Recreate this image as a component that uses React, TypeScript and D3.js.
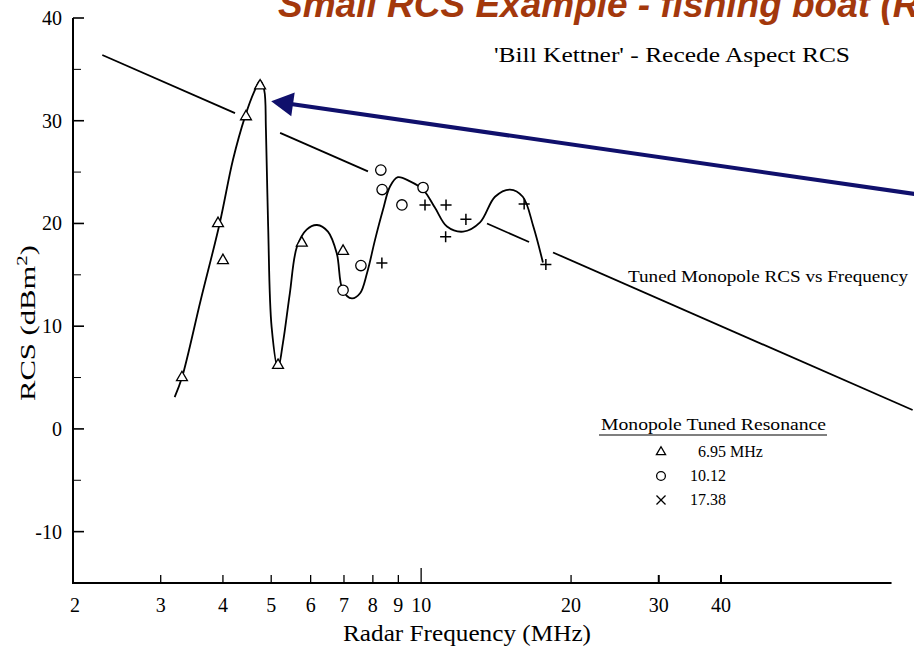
// @ts-nocheck
import { useEffect, useRef } from 'react';
import * as d3 from 'd3';

const width = 914, height = 646;

// hand-fitted response curve
const curveFreq = [3.2, 3.31, 3.61, 3.94, 4.19, 4.43, 4.62, 4.75, 4.84, 4.88, 4.93, 5.01, 5.16, 5.28, 5.45, 5.63, 5.89, 6.18, 6.5, 6.77, 6.96, 7.26, 7.54, 7.79, 8.08, 8.38, 8.66, 8.98, 9.5, 10.09, 10.67, 11.27, 12.14, 13.13, 14.07, 15.08, 16.0, 16.8, 17.56];
const curveRcs = [3.1, 5.0, 12.55, 20.0, 26.2, 30.4, 32.8, 33.9, 33.0, 29.1, 19.7, 9.9, 5.9, 8.4, 13.2, 17.7, 19.4, 19.85, 19.2, 17.1, 13.5, 12.7, 13.2, 15.2, 18.4, 21.3, 23.6, 24.5, 24.1, 23.3, 21.5, 19.7, 19.2, 20.1, 22.6, 23.3, 22.6, 19.7, 16.2];

// measured points, resonance 6.95 MHz
const triFreq = [3.31, 3.91, 4.0, 4.45, 4.75, 5.16, 5.76, 6.97];
const triRcs = [5.0, 20.0, 16.4, 30.4, 33.4, 6.2, 18.1, 17.3];
// resonance 10.12 MHz
const circFreq = [6.97, 7.57, 8.3, 8.35, 9.15, 10.09];
const circRcs = [13.5, 15.9, 25.2, 23.3, 21.8, 23.5];
// resonance 17.38 MHz
const plusFreq = [8.34, 10.18, 11.22, 11.2, 12.3, 16.1, 17.8];
const plusRcs = [16.15, 21.8, 21.8, 18.7, 20.4, 21.9, 16.0];

// tuned monopole trend line (drawn with gaps)
const refFreq = [2.29, 97];
const refRcs = [36.4, 1.84];
const refPieces = [[2.29, 4.23], [5.21, 7.82], [13.56, 16.47], [18.4, 97]];

const xTicks = [3, 4, 5, 6, 7, 8, 9, 10, 20, 30, 40];
const xLabels = [2, 3, 4, 5, 6, 7, 8, 9, 10, 20, 30, 40];
const yMajor = [-10, 0, 10, 20, 30, 40];
const yMinor = [-5, 5, 15, 25, 35];

const legendNames = ['6.95 MHz', '10.12', '17.38'];

// arrow annotation, in data units
const arrowFrom = [97, 22.9];
const arrowTo = [5.0, 31.9];

const serif = '"Liberation Serif", "Times New Roman", serif';

export default function App() {
  const ref = useRef(null);

  useEffect(() => {
    d3.select(ref.current).selectAll('*').remove();
    const svg = d3.select(ref.current);

    const x = d3.scaleLog().domain([2, 40]).range([73, 721]);
    const y = d3.scaleLinear().domain([-15, 40]).range([583, 18]);

    /* Title (cropped at the top, as on the slide) */
    svg.append('text')
      .attr('x', 278).attr('y', 17)
      .style('font', 'italic bold 37px "Liberation Sans", Arial, sans-serif')
      .attr('fill', '#a3380c')
      .text('Small RCS Example - fishing boat (R');

    svg.append('text')
      .attr('x', 494).attr('y', 62)
      .attr('textLength', 356).attr('lengthAdjust', 'spacingAndGlyphs')
      .style('font', `22px ${serif}`)
      .text("'Bill Kettner' - Recede Aspect RCS");

    /* Axes */
    const g = svg.append('g').attr('stroke', '#000');
    g.append('line').attr('x1', 73).attr('x2', 73).attr('y1', y(40)).attr('y2', y(-15)).attr('stroke-width', 2);
    g.append('line').attr('x1', 72).attr('x2', x(88)).attr('y1', y(-15)).attr('y2', y(-15)).attr('stroke-width', 2.2);

    g.selectAll('.ymaj').data(yMajor).join('line')
      .attr('x1', 73).attr('x2', 84).attr('y1', d => y(d)).attr('y2', d => y(d)).attr('stroke-width', 1.6);
    g.selectAll('.ymin').data(yMinor).join('line')
      .attr('x1', 73).attr('x2', 81).attr('y1', d => y(d)).attr('y2', d => y(d)).attr('stroke-width', 1);
    g.selectAll('.xt').data(xTicks).join('line')
      .attr('x1', d => x(d)).attr('x2', d => x(d))
      .attr('y1', y(-15)).attr('y2', d => y(-15) - (d === 10 ? 15 : 8))
      .attr('stroke-width', d => d >= 30 ? 2 : 1.3);

    svg.append('g')
      .style('font', `20px ${serif}`)
      .attr('text-anchor', 'end')
      .selectAll('text').data(yMajor).join('text')
      .attr('x', 62).attr('y', d => y(d) + 7)
      .text(d => d);

    svg.append('g')
      .style('font', `20px ${serif}`)
      .attr('text-anchor', 'middle')
      .selectAll('text').data(xLabels).join('text')
      .attr('x', d => x(d) + (d === 2 ? 2 : 0)).attr('y', 612)
      .text(d => d);

    svg.append('text')
      .attr('x', 343).attr('y', 641)
      .attr('textLength', 248).attr('lengthAdjust', 'spacingAndGlyphs')
      .style('font', `23px ${serif}`)
      .text('Radar Frequency (MHz)');

    const yl = svg.append('text')
      .attr('transform', 'translate(35,401) rotate(-90)')
      .attr('textLength', 156).attr('lengthAdjust', 'spacingAndGlyphs')
      .style('font', `22px ${serif}`);
    yl.append('tspan').text('RCS (dBm');
    yl.append('tspan').attr('dy', -8).style('font-size', '15px').text('2');
    yl.append('tspan').attr('dy', 8).text(')');

    /* Trend line */
    const refScale = d3.scaleLog().domain(refFreq).range(refRcs);
    svg.append('g')
      .selectAll('line').data(refPieces).join('line')
      .attr('x1', d => x(d[0])).attr('y1', d => y(refScale(d[0])))
      .attr('x2', d => x(d[1])).attr('y2', d => y(refScale(d[1])))
      .attr('stroke', '#000').attr('stroke-width', 1.8);

    svg.append('text')
      .attr('x', 628).attr('y', 282)
      .attr('textLength', 280).attr('lengthAdjust', 'spacingAndGlyphs')
      .style('font', `16px ${serif}`)
      .text('Tuned Monopole RCS vs Frequency');

    /* Curve */
    const curve = curveFreq.map((f, i) => [f, curveRcs[i]]);
    svg.append('path')
      .datum(curve)
      .attr('fill', 'none').attr('stroke', '#000').attr('stroke-width', 1.8)
      .attr('d', d3.line().x(d => x(d[0])).y(d => y(d[1])).curve(d3.curveCatmullRom.alpha(0.5)));

    /* Markers */
    const marks = (fs, vs, type, size, sw) => {
      svg.append('g')
        .selectAll('path').data(fs.map((f, i) => [f, vs[i]])).join('path')
        .attr('transform', d => `translate(${x(d[0])},${y(d[1])})`)
        .attr('d', d3.symbol().type(type).size(size))
        .attr('fill', type === d3.symbolPlus ? 'none' : '#fff')
        .attr('stroke', '#000').attr('stroke-width', sw);
    };
    marks(triFreq, triRcs, d3.symbolTriangle2, 85, 1.3);
    marks(circFreq, circRcs, d3.symbolCircle, 85, 1.3);
    marks(plusFreq, plusRcs, d3.symbolPlus, 42, 1.5);

    /* Legend */
    const lg = svg.append('g').style('font', `16px ${serif}`);
    lg.append('text').attr('x', 601).attr('y', 430)
      .attr('textLength', 225).attr('lengthAdjust', 'spacingAndGlyphs')
      .text('Monopole Tuned Resonance');
    lg.append('line').attr('x1', 599).attr('x2', 827).attr('y1', 435).attr('y2', 435)
      .attr('stroke', '#000').attr('stroke-width', 1.2);
    const legendTypes = [d3.symbolTriangle2, d3.symbolCircle, d3.symbolTimes];
    legendNames.forEach((name, i) => {
      lg.append('path')
        .attr('transform', `translate(661,${452 + i * 24})`)
        .attr('d', d3.symbol().type(legendTypes[i]).size(i === 2 ? 55 : 60))
        .attr('fill', 'none').attr('stroke', '#000').attr('stroke-width', 1.3);
      lg.append('text')
        .attr('x', i === 0 ? 698 : 690).attr('y', 457 + i * 24)
        .text(name);
    });

    /* Arrow */
    const sx = x(arrowFrom[0]), sy = y(arrowFrom[1]);
    const tx = x(arrowTo[0]), ty = y(arrowTo[1]);
    const len = Math.hypot(tx - sx, ty - sy);
    const ux = (tx - sx) / len, uy = (ty - sy) / len;
    const bx = tx - ux * 22, by = ty - uy * 22;
    const navy = '#10106c';
    svg.append('line')
      .attr('x1', sx + ux * -10).attr('y1', sy + uy * -10).attr('x2', bx + ux * 2).attr('y2', by + uy * 2)
      .attr('stroke', navy).attr('stroke-width', 4);
    svg.append('path')
      .attr('d', `M${tx},${ty}L${bx - uy * 12},${by + ux * 12}L${bx + uy * 12},${by - ux * 12}Z`)
      .attr('fill', navy);
  }, []);

  return (
    <svg ref={ref} width={width} height={height}
      style={{ position: 'absolute', left: 0, top: 0, background: '#fff', display: 'block' }} />
  );
}
